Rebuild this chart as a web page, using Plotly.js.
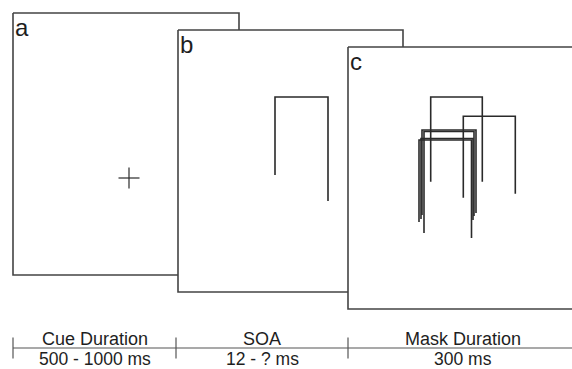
<!DOCTYPE html>
<html>
<head>
<meta charset="utf-8">
<script src="https://cdn.plot.ly/plotly-3.0.1.min.js"></script>
<style>html,body{margin:0;padding:0;background:#fff;}#chart{width:572px;height:369px;}</style>
</head>
<body>
<div id="chart"></div>
<script>
// ---- data ----
const panelLabels = ['a', 'b', 'c'];
const panelLeft = [13, 178, 348];
const panelTop = [13, 30, 47];
const panelRight = [239, 403, 574];
const panelBottom = [275, 292, 309];

const crossX = [129];
const crossY = [178];

// brackets: panel index, left x, right x, top y, left-leg bottom y, right-leg bottom y
const bracketPanel = [1, 2, 2, 2, 2, 2, 2];
const bracketLeft = [275, 430.7, 463.3, 422, 424, 419, 421];
const bracketRight = [328, 482.3, 515.3, 476, 474, 471.5, 473];
const bracketTop = [97, 97, 116.3, 130, 131.5, 140, 138.5];
const bracketLeftBottom = [175, 181.7, 197.7, 215, 233, 222, 219];
const bracketRightBottom = [201, 181.7, 193.7, 213, 216, 238, 220];

const phaseNames = ['Cue Duration', 'SOA', 'Mask Duration'];
const phaseDurations = ['500 - 1000 ms', '12 - ? ms', '300 ms'];
const phaseBounds = [13, 176, 348, 578];

// ---- styling ----
const W = 572, H = 369;
const boxColor = '#444444';
const markColor = '#2a2a2a';
const textColor = '#1e1e1e';
const FONT = 'Liberation Sans';
const crossHalf = 10.5;
const timelineY = 348, tickHalf = 10.5;

const traces = [];
const annotations = [];

for (let p = 0; p < panelLabels.length; p++) {
  const l = panelLeft[p], t = panelTop[p], r = panelRight[p], b = panelBottom[p];
  traces.push({
    type: 'scatter', mode: 'lines',
    x: [l, r, r, l, l], y: [t, t, b, b, t],
    fill: 'toself', fillcolor: '#ffffff',
    line: {color: boxColor, width: 1.6},
    hoverinfo: 'skip'
  });
  annotations.push({
    xref: 'x', yref: 'y', x: l, y: t - 1,
    xanchor: 'left', yanchor: 'top', showarrow: false,
    text: panelLabels[p],
    font: {family: FONT, size: 24, color: textColor}
  });
  if (p === 0) {
    for (let i = 0; i < crossX.length; i++) {
      traces.push({
        type: 'scatter', mode: 'lines',
        x: [crossX[i] - crossHalf, crossX[i] + crossHalf, null, crossX[i], crossX[i]],
        y: [crossY[i], crossY[i], null, crossY[i] - crossHalf, crossY[i] + crossHalf],
        line: {color: markColor, width: 1.2}, hoverinfo: 'skip'
      });
    }
  }
  for (let i = 0; i < bracketPanel.length; i++) {
    if (bracketPanel[i] !== p) continue;
    traces.push({
      type: 'scatter', mode: 'lines',
      x: [bracketLeft[i], bracketLeft[i], bracketRight[i], bracketRight[i]],
      y: [bracketLeftBottom[i], bracketTop[i], bracketTop[i], bracketRightBottom[i]],
      line: {color: markColor, width: 1.6}, hoverinfo: 'skip'
    });
  }
}

// timeline
traces.push({
  type: 'scatter', mode: 'lines',
  x: [phaseBounds[0], W], y: [timelineY, timelineY],
  line: {color: '#555555', width: 1.2}, hoverinfo: 'skip'
});
for (let i = 0; i < phaseBounds.length - 1; i++) {
  traces.push({
    type: 'scatter', mode: 'lines',
    x: [phaseBounds[i], phaseBounds[i]], y: [timelineY - tickHalf, timelineY + tickHalf],
    line: {color: '#555555', width: 1.2}, hoverinfo: 'skip'
  });
}
for (let i = 0; i < phaseNames.length; i++) {
  const cx = (phaseBounds[i] + phaseBounds[i + 1]) / 2;
  annotations.push({
    xref: 'x', yref: 'y', x: cx, y: timelineY - 9.5, xanchor: 'center', yanchor: 'middle',
    showarrow: false, text: phaseNames[i], font: {family: FONT, size: 18, color: textColor}
  });
  annotations.push({
    xref: 'x', yref: 'y', x: cx, y: timelineY + 10.8, xanchor: 'center', yanchor: 'middle',
    showarrow: false, text: phaseDurations[i], font: {family: FONT, size: 17.5, color: textColor}
  });
}

const layout = {
  width: W, height: H,
  margin: {l: 0, r: 0, t: 0, b: 0, pad: 0},
  paper_bgcolor: '#ffffff', plot_bgcolor: '#ffffff',
  showlegend: false,
  xaxis: {range: [0, W], visible: false, fixedrange: true},
  yaxis: {range: [H, 0], visible: false, fixedrange: true},
  annotations: annotations
};

Plotly.newPlot('chart', traces, layout, {staticPlot: true, displayModeBar: false});
</script>
</body>
</html>
